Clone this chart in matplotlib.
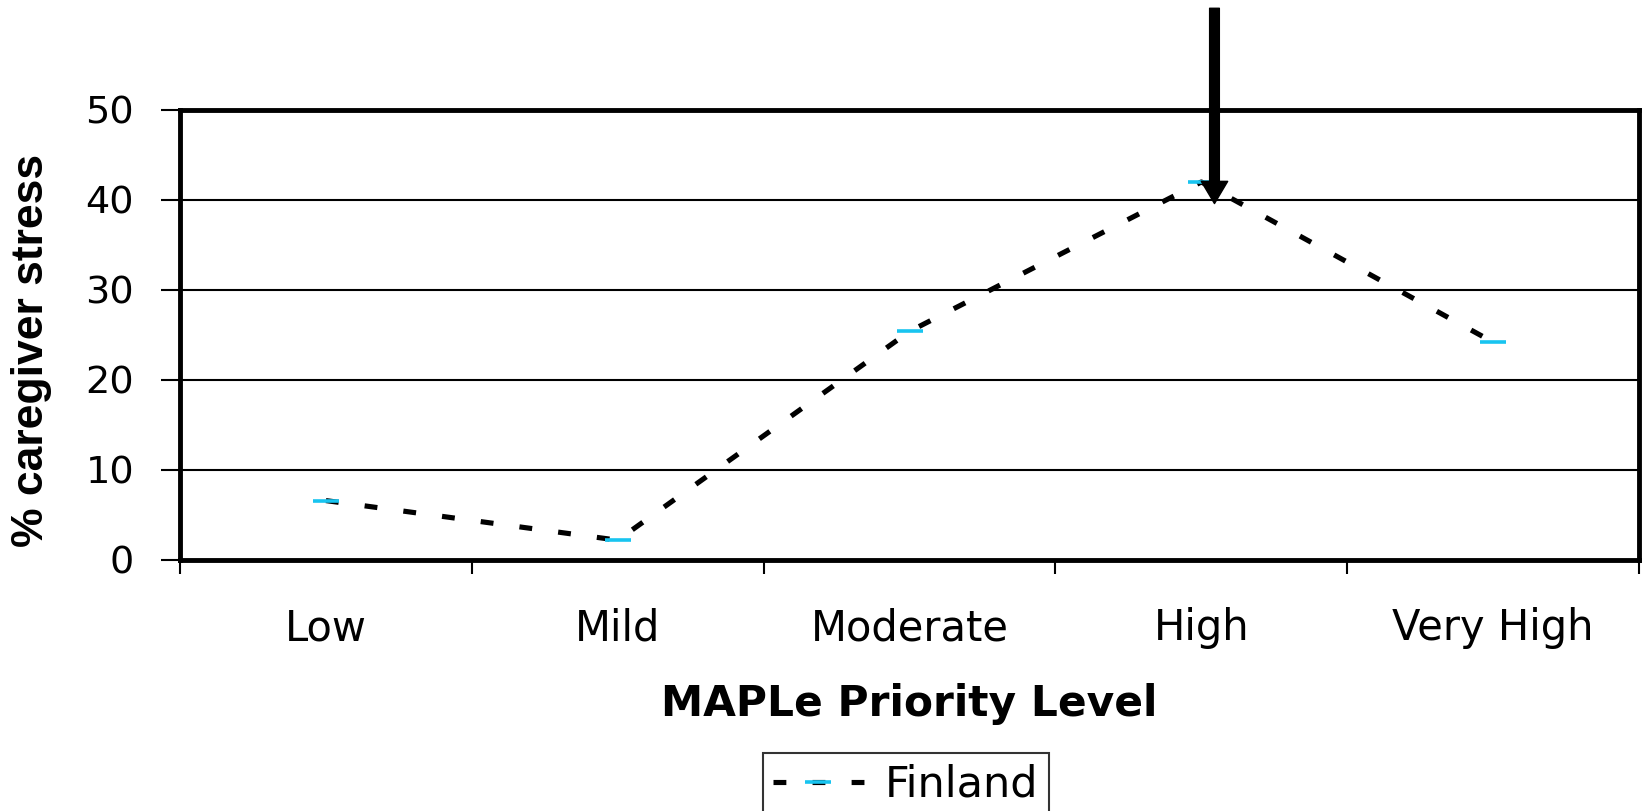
import matplotlib
matplotlib.use("Agg")
import matplotlib.pyplot as plt

# MAPLe priority levels and % caregiver stress (Finland)
levels = ["Low", "Mild", "Moderate", "High", "Very High"]
finland = [6.6, 2.2, 25.4, 42.0, 24.2]
y_ticks = [0, 10, 20, 30, 40, 50]

fig = plt.figure(figsize=(16.44, 8.11), dpi=100)
ax = fig.add_axes([0.1095, 0.3095, 0.8875, 0.5549])

x = [i + 0.5 for i in range(len(levels))]
line, = ax.plot(x, finland, color="black", lw=3.7, label="Finland",
                marker="_", markersize=19, markeredgewidth=2.6,
                markeredgecolor="#18C4F0", markerfacecolor="#18C4F0")
line.set_dashes((2.5, 5.1))

ax.set_xlim(0, len(levels))
ax.set_ylim(0, 50)
ax.set_yticks(y_ticks)
ax.set_yticklabels([str(v) for v in y_ticks], fontsize=27.5)
ax.set_xticks(range(len(levels) + 1))
ax.set_xticklabels([])
ax.set_xticks(x, minor=True)
ax.set_xticklabels(levels, minor=True, fontsize=30)
ax.tick_params(axis="x", which="major", direction="out", length=10, width=1.5)
ax.tick_params(axis="x", which="minor", length=0, pad=34)
ax.tick_params(axis="y", direction="out", length=14, width=1.5, pad=19)

ax.grid(axis="y", color="black", lw=1.5)
ax.set_axisbelow(True)
for s in ax.spines.values():
    s.set_linewidth(3.5)

ax.set_xlabel("MAPLe Priority Level", fontsize=30.5, fontweight="bold", labelpad=24)
ax.set_ylabel("% caregiver stress", fontsize=32, fontweight="bold",
              family=["Liberation Sans Narrow", "Liberation Sans", "DejaVu Sans"])
ax.yaxis.set_label_coords(-0.088, 0.465)

# arrow pointing at the High peak
ax.annotate("", xy=(3.545, 39.6), xytext=(3.545, 61.3),
            arrowprops=dict(width=7, headwidth=19, headlength=16, shrink=0,
                            color="black"),
            annotation_clip=False)

leg = fig.legend(handles=[line], loc="upper center",
                 bbox_to_anchor=(906 / 1644, 1 - 753 / 811),
                 fontsize=31, frameon=True, fancybox=False, handlelength=2.1,
                 borderpad=0.25, handletextpad=0.5, borderaxespad=0)
leg.get_frame().set_edgecolor("black")
leg.get_frame().set_linewidth(1.5)

fig.savefig("out.png", dpi=100)
